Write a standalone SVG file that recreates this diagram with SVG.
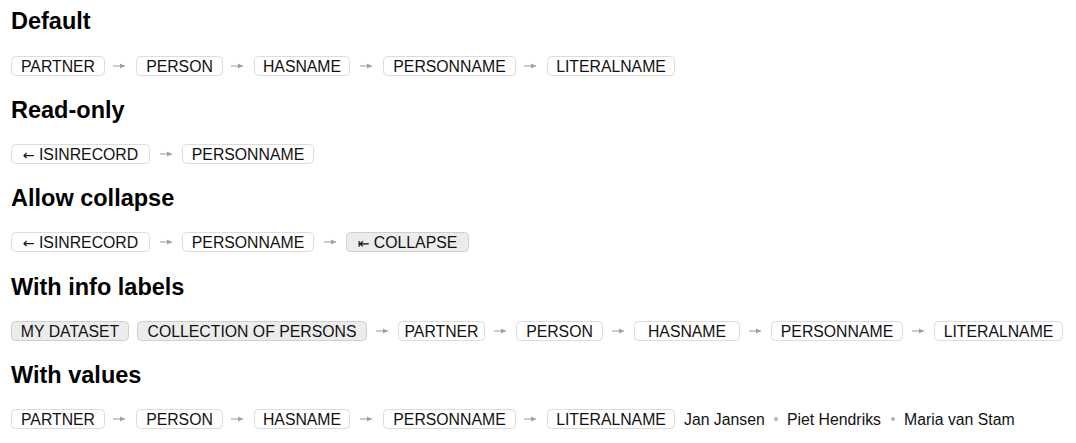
<svg xmlns="http://www.w3.org/2000/svg" width="1076" height="443" viewBox="0 0 1076 443">
<defs>
<style>
.h{font-family:"Liberation Sans",Arial,sans-serif;font-weight:bold;font-size:23.5px;fill:#000}
.b{fill:#fff;stroke:#dcdcdc;stroke-width:1}
.g{fill:#ececec;stroke:#cfcfcf;stroke-width:1}
.t{font-family:"Liberation Sans",Arial,"DejaVu Sans",sans-serif;font-size:15.8px;fill:#111;text-anchor:middle}
.a{font-family:"DejaVu Sans",sans-serif;font-size:14px}
.v{font-family:"Liberation Sans",Arial,sans-serif;font-size:15.8px;fill:#111}
.d{fill:#b5b5b5}
.c{stroke:#a0a0a0;stroke-width:1.1;fill:none}
</style>
<marker id="ah" viewBox="0 0 6 6" refX="5" refY="3" markerWidth="6" markerHeight="6" markerUnits="userSpaceOnUse" orient="auto"><path d="M0,0.5 L5,3 L0,5.5 z" fill="#a0a0a0"/></marker>
</defs>
<rect width="1076" height="443" fill="#fff"/>
<g id="headings">
<text class="h" x="11" y="29">Default</text>
<text class="h" x="11" y="118">Read-only</text>
<text class="h" x="11" y="206">Allow collapse</text>
<text class="h" x="11" y="295">With info labels</text>
<text class="h" x="11" y="383">With values</text>
</g>
<g id="row1">
<g id="r1-partner"><rect class="b" x="11.5" y="56.5" width="93" height="19" rx="4"/><text class="t" x="58" y="71.5">PARTNER</text></g>
<g id="r1-person"><rect class="b" x="136.5" y="56.5" width="86" height="19" rx="4"/><text class="t" x="179.5" y="71.5">PERSON</text></g>
<g id="r1-hasname"><rect class="b" x="254.5" y="56.5" width="95" height="19" rx="4"/><text class="t" x="302" y="71.5">HASNAME</text></g>
<g id="r1-personname"><rect class="b" x="383.5" y="56.5" width="132" height="19" rx="4"/><text class="t" x="449.5" y="71.5">PERSONNAME</text></g>
<g id="r1-literalname"><rect class="b" x="547.5" y="56.5" width="127" height="19" rx="4"/><text class="t" x="611" y="71.5">LITERALNAME</text></g>
</g>
<g id="row2">
<g id="r2-isinrecord"><rect class="b" x="11.5" y="144.5" width="138" height="19" rx="4"/><text class="t" x="80.5" y="159.5"><tspan class="a">←</tspan> ISINRECORD</text></g>
<g id="r2-personname"><rect class="b" x="182.5" y="144.5" width="131" height="19" rx="4"/><text class="t" x="248" y="159.5">PERSONNAME</text></g>
</g>
<g id="row3">
<g id="r3-isinrecord"><rect class="b" x="11.5" y="232.5" width="138" height="19" rx="4"/><text class="t" x="80.5" y="247.5"><tspan class="a">←</tspan> ISINRECORD</text></g>
<g id="r3-personname"><rect class="b" x="182.5" y="232.5" width="131" height="19" rx="4"/><text class="t" x="248" y="247.5">PERSONNAME</text></g>
<g id="r3-collapse"><rect class="g" x="346.5" y="232.5" width="122" height="19" rx="4"/><text class="t" x="407.5" y="247.5"><tspan class="a" font-size="12px">⇤</tspan> COLLAPSE</text></g>
</g>
<g id="row4">
<g id="r4-dataset"><rect class="g" x="11.5" y="321.5" width="117" height="19" rx="4"/><text class="t" x="70" y="336.5">MY DATASET</text></g>
<g id="r4-collection"><rect class="g" x="137.5" y="321.5" width="229" height="19" rx="4"/><text class="t" x="252" y="336.5">COLLECTION OF PERSONS</text></g>
<g id="r4-partner"><rect class="b" x="398.5" y="321.5" width="86" height="19" rx="4"/><text class="t" x="441.5" y="336.5">PARTNER</text></g>
<g id="r4-person"><rect class="b" x="516.5" y="321.5" width="86" height="19" rx="4"/><text class="t" x="559.5" y="336.5">PERSON</text></g>
<g id="r4-hasname"><rect class="b" x="634.5" y="321.5" width="105" height="19" rx="4"/><text class="t" x="687" y="336.5">HASNAME</text></g>
<g id="r4-personname"><rect class="b" x="771.5" y="321.5" width="131" height="19" rx="4"/><text class="t" x="837" y="336.5">PERSONNAME</text></g>
<g id="r4-literalname"><rect class="b" x="934.5" y="321.5" width="128" height="19" rx="4"/><text class="t" x="998.5" y="336.5">LITERALNAME</text></g>
</g>
<g id="row5">
<g id="r5-partner"><rect class="b" x="11.5" y="409.5" width="93" height="19" rx="4"/><text class="t" x="58" y="424.5">PARTNER</text></g>
<g id="r5-person"><rect class="b" x="136.5" y="409.5" width="86" height="19" rx="4"/><text class="t" x="179.5" y="424.5">PERSON</text></g>
<g id="r5-hasname"><rect class="b" x="254.5" y="409.5" width="95" height="19" rx="4"/><text class="t" x="302" y="424.5">HASNAME</text></g>
<g id="r5-personname"><rect class="b" x="383.5" y="409.5" width="132" height="19" rx="4"/><text class="t" x="449.5" y="424.5">PERSONNAME</text></g>
<g id="r5-literalname"><rect class="b" x="547.5" y="409.5" width="127" height="19" rx="4"/><text class="t" x="611" y="424.5">LITERALNAME</text></g>
<g id="r5-values">
<text class="v" x="684" y="424.5">Jan Jansen</text>
<circle class="d" cx="776" cy="419" r="2"/>
<text class="v" x="787" y="424.5">Piet Hendriks</text>
<circle class="d" cx="893" cy="419" r="2"/>
<text class="v" x="904" y="424.5">Maria van Stam</text>
</g>
</g>
<g id="connectors" class="c" marker-end="url(#ah)">
<line x1="113" y1="66" x2="125" y2="66"/>
<line x1="231" y1="66" x2="243" y2="66"/>
<line x1="360" y1="66" x2="372" y2="66"/>
<line x1="524" y1="66" x2="536" y2="66"/>
<line x1="160" y1="154" x2="172" y2="154"/>
<line x1="160" y1="242" x2="172" y2="242"/>
<line x1="324" y1="242" x2="336" y2="242"/>
<line x1="376" y1="331" x2="388" y2="331"/>
<line x1="494" y1="331" x2="506" y2="331"/>
<line x1="612" y1="331" x2="624" y2="331"/>
<line x1="749" y1="331" x2="761" y2="331"/>
<line x1="912" y1="331" x2="924" y2="331"/>
<line x1="113" y1="419" x2="125" y2="419"/>
<line x1="231" y1="419" x2="243" y2="419"/>
<line x1="360" y1="419" x2="372" y2="419"/>
<line x1="524" y1="419" x2="536" y2="419"/>
</g>
</svg>
